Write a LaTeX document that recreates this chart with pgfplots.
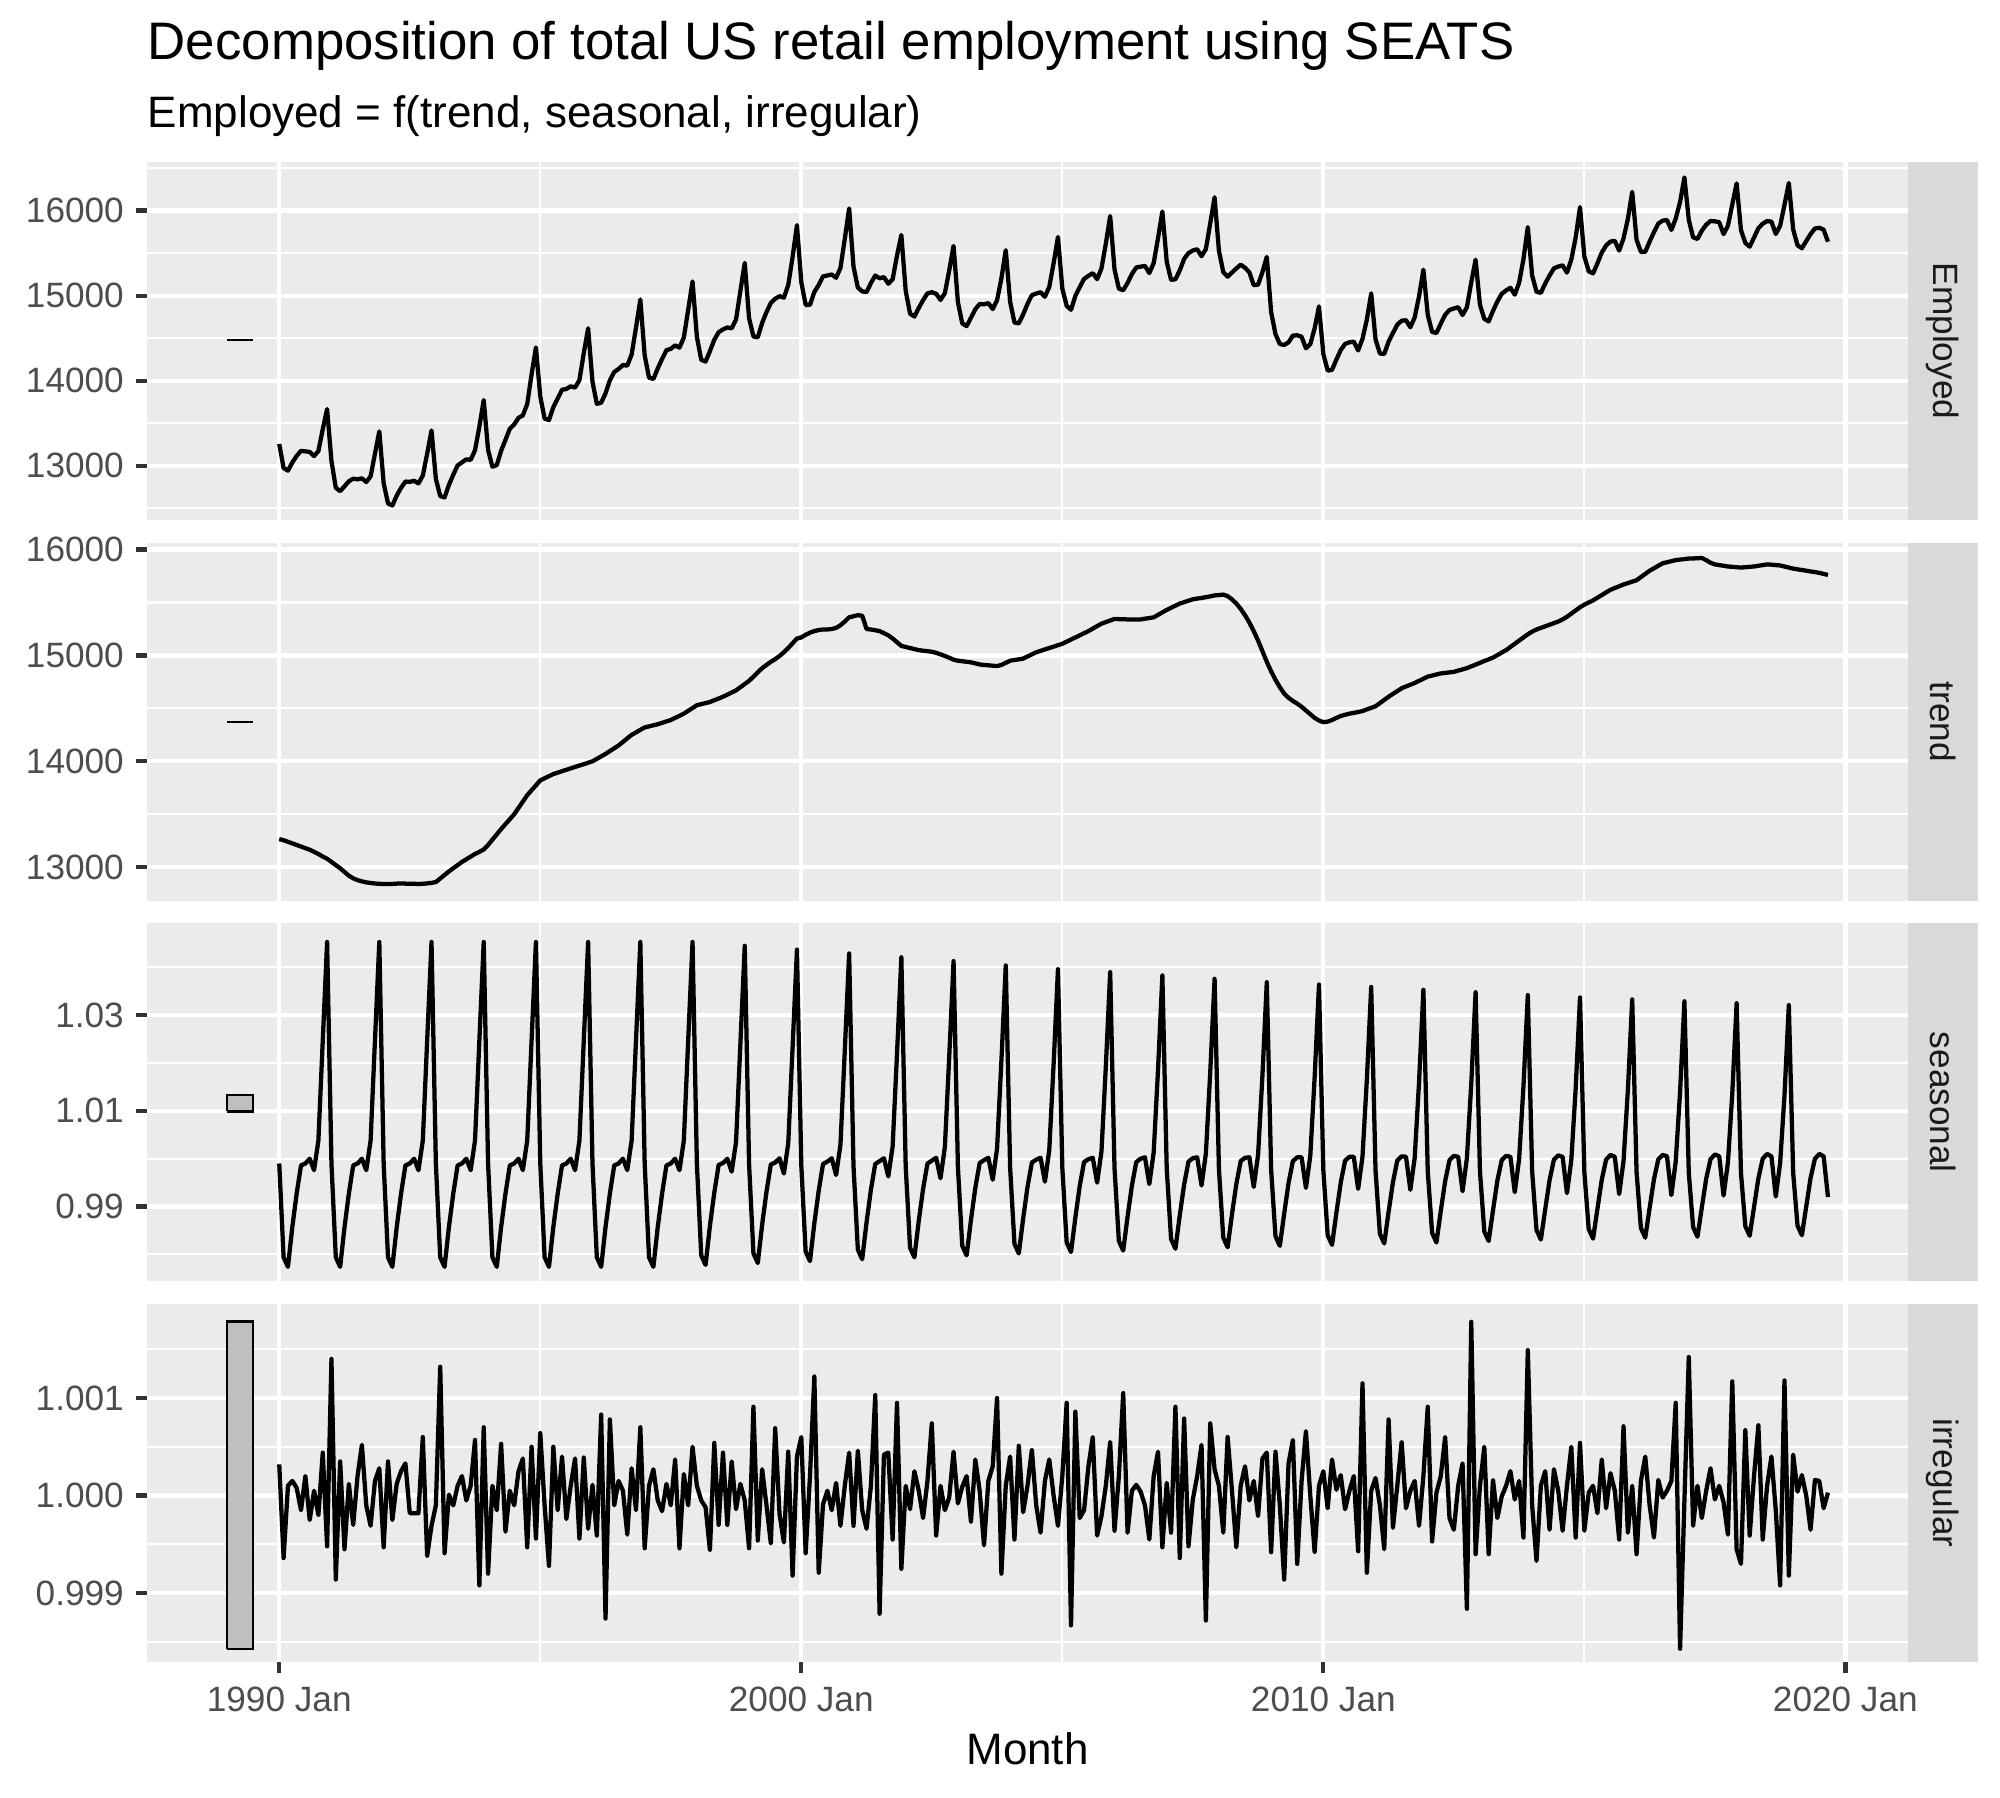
\documentclass[border=0pt]{standalone}
\usepackage{fontspec}
\setmainfont{Liberation Sans}
\usepackage{pgfplots}
\pgfplotsset{compat=1.18}
\usepackage{pgfplotstable}
\definecolor{panelbg}{HTML}{EBEBEB}
\definecolor{stripbg}{HTML}{D9D9D9}
\definecolor{gray10}{HTML}{1A1A1A}
\definecolor{gray20}{HTML}{333333}
\definecolor{gray30}{HTML}{4D4D4D}
\definecolor{barfill}{HTML}{BFBFBF}

\pgfplotstableread{
yr mo E T S I
1990 1 13256 13265 0.9990 1.00032
1990 2 12973 13255 0.9794 0.99936
1990 3 12942 13240 0.9774 1.00010
1990 4 13038 13225 0.9857 1.00015
1990 5 13115 13210 0.9927 1.00008
1990 6 13175 13195 0.9986 0.99985
1990 7 13169 13180 0.9990 1.00020
1990 8 13162 13165 1.0000 0.99975
1990 9 13114 13145 0.9976 1.00005
1990 10 13172 13125 1.0038 0.99980
1990 11 13429 13100 1.0247 1.00044
1990 12 13666 13080 1.0453 0.99948
1991 1 13055 13050 0.9990 1.00140
1991 2 12741 13020 0.9794 0.99914
1991 3 12701 12990 0.9774 1.00035
1991 4 12758 12955 0.9857 0.99945
1991 5 12817 12920 0.9927 1.00012
1991 6 12848 12895 0.9986 0.99970
1991 7 12840 12878 0.9990 1.00020
1991 8 12852 12866 1.0000 1.00052
1991 9 12808 12857 0.9976 0.99990
1991 10 12875 12851 1.0038 0.99969
1991 11 13141 12846 1.0247 1.00015
1991 12 13404 12843 1.0453 1.00028
1992 1 12795 12842 0.9990 0.99947
1992 2 12556 12841 0.9794 1.00035
1992 3 12532 12842 0.9774 0.99975
1992 4 12648 12845 0.9857 1.00012
1992 5 12740 12846 0.9927 1.00025
1992 6 12814 12845 0.9986 1.00033
1992 7 12810 12844 0.9990 0.99982
1992 8 12823 12843 1.0000 0.99982
1992 9 12792 12842 0.9976 0.99982
1992 10 12884 12843 1.0038 1.00060
1992 11 13141 12847 1.0247 0.99938
1992 12 13415 12852 1.0453 0.99969
1993 1 12846 12860 0.9990 0.99990
1993 2 12644 12893 0.9794 1.00132
1993 3 12627 12927 0.9774 0.99941
1993 4 12775 12960 0.9857 1.00001
1993 5 12894 12990 0.9927 0.99990
1993 6 13003 13020 0.9986 1.00010
1993 7 13040 13050 0.9990 1.00020
1993 8 13074 13075 1.0000 0.99995
1993 9 13070 13100 0.9976 1.00010
1993 10 13182 13125 1.0038 1.00057
1993 11 13458 13145 1.0247 0.99908
1993 12 13773 13167 1.0453 1.00070
1994 1 13186 13210 0.9990 0.99920
1994 2 12988 13260 0.9794 1.00010
1994 3 13007 13310 0.9774 0.99985
1994 4 13176 13360 0.9857 1.00053
1994 5 13304 13407 0.9927 0.99963
1994 6 13435 13453 0.9986 1.00005
1994 7 13485 13500 0.9990 0.99990
1994 8 13563 13560 1.0000 1.00025
1994 9 13592 13620 0.9976 1.00038
1994 10 13725 13680 1.0038 0.99947
1994 11 14073 13727 1.0247 1.00050
1994 12 14391 13773 1.0453 0.99956
1995 1 13815 13820 0.9990 1.00064
1995 2 13554 13840 0.9794 0.99990
1995 3 13537 13860 0.9774 0.99928
1995 4 13689 13880 0.9857 1.00050
1995 5 13790 13893 0.9927 0.99985
1995 6 13893 13907 0.9986 1.00040
1995 7 13903 13920 0.9990 0.99976
1995 8 13934 13933 1.0000 1.00010
1995 9 13919 13947 0.9976 1.00038
1995 10 14007 13960 1.0038 0.99956
1995 11 14324 13973 1.0247 1.00039
1995 12 14616 13987 1.0453 0.99966
1996 1 13988 14000 0.9990 1.00011
1996 2 13728 14023 0.9794 0.99959
1996 3 13741 14047 0.9774 1.00083
1996 4 13851 14070 0.9857 0.99874
1996 5 14005 14097 0.9927 1.00078
1996 6 14102 14123 0.9986 0.99990
1996 7 14138 14150 0.9990 1.00015
1996 8 14184 14183 1.0000 1.00005
1996 9 14177 14217 0.9976 0.99960
1996 10 14308 14250 1.0038 1.00028
1996 11 14623 14273 1.0247 0.99985
1996 12 14955 14297 1.0453 1.00070
1997 1 14298 14320 0.9990 0.99946
1997 2 14036 14330 0.9794 1.00010
1997 3 14020 14340 0.9774 1.00027
1997 4 14144 14350 0.9857 0.99995
1997 5 14256 14363 0.9927 0.99984
1997 6 14359 14377 0.9986 1.00012
1997 7 14374 14390 0.9990 0.99990
1997 8 14415 14410 1.0000 1.00037
1997 9 14388 14430 0.9976 0.99946
1997 10 14508 14450 1.0038 1.00022
1997 11 14833 14477 1.0247 0.99990
1997 12 15167 14503 1.0453 1.00050
1998 1 14516 14530 0.9989 1.00010
1998 2 14246 14540 0.9798 0.99995
1998 3 14225 14550 0.9778 0.99988
1998 4 14348 14560 0.9860 0.99944
1998 5 14481 14577 0.9929 1.00054
1998 6 14570 14593 0.9987 0.99970
1998 7 14603 14610 0.9991 1.00044
1998 8 14626 14630 1.0000 0.99970
1998 9 14616 14650 0.9973 1.00035
1998 10 14719 14670 1.0035 0.99986
1998 11 15055 14700 1.0240 1.00012
1998 12 15385 14730 1.0445 0.99995
1999 1 14734 14760 0.9988 0.99946
1999 2 14520 14800 0.9802 1.00091
1999 3 14510 14840 0.9782 0.99954
1999 4 14679 14880 0.9862 1.00027
1999 5 14806 14910 0.9931 0.99990
1999 6 14915 14940 0.9988 0.99951
1999 7 14963 14965 0.9992 1.00069
1999 8 14994 14995 1.0001 0.99981
1999 9 14976 15030 0.9969 0.99952
1999 10 15125 15070 1.0032 1.00045
1999 11 15455 15115 1.0233 0.99918
1999 12 15829 15160 1.0437 1.00040
2000 1 15158 15170 0.9986 1.00060
2000 2 14891 15195 0.9806 0.99941
2000 3 14892 15215 0.9786 1.00020
2000 4 15043 15230 0.9865 1.00122
2000 5 15126 15240 0.9933 0.99921
2000 6 15227 15245 0.9989 0.99991
2000 7 15237 15245 0.9994 1.00005
2000 8 15249 15250 1.0001 0.99985
2000 9 15210 15260 0.9966 1.00013
2000 10 15325 15285 1.0029 0.99969
2000 11 15668 15320 1.0226 1.00010
2000 12 16026 15360 1.0429 1.00044
2001 1 15342 15370 0.9985 0.99969
2001 2 15095 15380 0.9810 1.00046
2001 3 15050 15375 0.9790 0.99985
2001 4 15042 15250 0.9867 0.99966
2001 5 15147 15245 0.9935 1.00010
2001 6 15237 15238 0.9989 1.00103
2001 7 15204 15230 0.9995 0.99879
2001 8 15218 15210 1.0001 1.00042
2001 9 15140 15190 0.9963 1.00044
2001 10 15193 15160 1.0026 0.99955
2001 11 15471 15125 1.0219 1.00095
2001 12 15714 15090 1.0421 0.99925
2002 1 15057 15080 0.9984 1.00010
2002 2 14788 15070 0.9814 0.99986
2002 3 14754 15060 0.9794 1.00025
2002 4 14855 15050 0.9870 1.00005
2002 5 14947 15045 0.9937 0.99977
2002 6 15027 15040 0.9990 1.00015
2002 7 15040 15035 0.9996 1.00074
2002 8 15022 15025 1.0002 0.99959
2002 9 14950 15010 0.9959 1.00010
2002 10 15029 14995 1.0024 0.99985
2002 11 15295 14978 1.0212 0.99998
2002 12 15585 14960 1.0413 1.00045
2003 1 14923 14950 0.9983 0.99992
2003 2 14674 14945 0.9818 1.00009
2003 3 14641 14940 0.9798 1.00020
2003 4 14740 14935 0.9872 0.99973
2003 5 14840 14925 0.9939 1.00037
2003 6 14902 14915 0.9991 1.00005
2003 7 14898 14910 0.9997 0.99949
2003 8 14912 14907 1.0002 1.00015
2003 9 14842 14903 0.9956 1.00030
2003 10 14946 14900 1.0021 1.00100
2003 11 15204 14910 1.0205 0.99920
2003 12 15535 14930 1.0404 1.00010
2004 1 14929 14950 0.9982 1.00040
2004 2 14684 14957 0.9822 0.99955
2004 3 14674 14963 0.9802 1.00051
2004 4 14780 14970 0.9875 0.99983
2004 5 14903 14990 0.9941 1.00010
2004 6 15005 15010 0.9992 1.00047
2004 7 15025 15030 0.9998 0.99990
2004 8 15040 15043 1.0002 0.99962
2004 9 14987 15057 0.9952 1.00015
2004 10 15103 15070 1.0018 1.00037
2004 11 15382 15083 1.0198 1.00000
2004 12 15690 15097 1.0396 0.99969
2005 1 15084 15110 0.9981 1.00020
2005 2 14880 15130 0.9825 1.00095
2005 3 14834 15150 0.9805 0.99867
2005 4 14996 15170 0.9877 1.00086
2005 5 15100 15190 0.9943 0.99977
2005 6 15197 15210 0.9993 0.99985
2005 7 15233 15230 0.9999 1.00030
2005 8 15265 15253 1.0002 1.00060
2005 9 15194 15277 0.9950 0.99959
2005 10 15320 15300 1.0015 0.99979
2005 11 15611 15315 1.0192 1.00010
2005 12 15936 15330 1.0390 1.00055
2006 1 15309 15345 0.9980 0.99964
2006 2 15082 15343 0.9828 1.00020
2006 3 15064 15342 0.9808 1.00105
2006 4 15149 15340 0.9879 0.99962
2006 5 15255 15340 0.9944 1.00005
2006 6 15331 15340 0.9993 1.00011
2006 7 15341 15340 1.0000 1.00004
2006 8 15350 15347 1.0003 0.99990
2006 9 15265 15353 0.9947 0.99955
2006 10 15383 15360 1.0013 1.00020
2006 11 15676 15383 1.0186 1.00045
2006 12 15989 15407 1.0383 0.99947
2007 1 15400 15430 0.9979 1.00013
2007 2 15185 15450 0.9832 0.99962
2007 3 15193 15470 0.9812 1.00091
2007 4 15297 15490 0.9882 0.99936
2007 5 15432 15503 0.9946 1.00079
2007 6 15500 15517 0.9994 0.99948
2007 7 15531 15530 1.0001 0.99996
2007 8 15545 15537 1.0003 1.00020
2007 9 15464 15543 0.9944 1.00052
2007 10 15547 15550 1.0011 0.99872
2007 11 15850 15558 1.0180 1.00074
2007 12 16157 15567 1.0376 1.00027
2008 1 15527 15570 0.9978 1.00010
2008 2 15278 15575 0.9835 0.99962
2008 3 15223 15560 0.9815 1.00060
2008 4 15272 15530 0.9884 1.00005
2008 5 15320 15490 0.9947 0.99947
2008 6 15364 15440 0.9995 1.00010
2008 7 15328 15380 1.0002 1.00030
2008 8 15274 15310 1.0003 0.99995
2008 9 15123 15230 0.9941 1.00015
2008 10 15129 15140 1.0008 0.99979
2008 11 15277 15040 1.0174 1.00038
2008 12 15456 14940 1.0369 1.00044
2009 1 14807 14850 0.9977 0.99942
2009 2 14547 14770 0.9838 1.00045
2009 3 14431 14700 0.9818 0.99990
2009 4 14420 14640 0.9885 0.99914
2009 5 14451 14600 0.9949 1.00033
2009 6 14531 14570 0.9995 1.00057
2009 7 14534 14545 1.0003 0.99930
2009 8 14517 14515 1.0003 1.00015
2009 9 14381 14480 0.9939 1.00066
2009 10 14429 14445 1.0006 1.00000
2009 11 14616 14410 1.0170 0.99942
2009 12 14874 14385 1.0364 1.00010
2010 1 14314 14370 0.9976 1.00025
2010 2 14119 14375 0.9840 0.99987
2010 3 14127 14390 0.9820 1.00037
2010 4 14248 14410 0.9887 1.00006
2010 5 14361 14428 0.9950 1.00021
2010 6 14432 14440 0.9996 0.99986
2010 7 14452 14450 1.0004 1.00005
2010 8 14459 14458 1.0004 1.00020
2010 9 14356 14465 0.9937 0.99943
2010 10 14492 14475 1.0004 1.00115
2010 11 14718 14490 1.0165 0.99921
2010 12 15027 14505 1.0359 1.00005
2011 1 14486 14520 0.9975 1.00018
2011 2 14320 14550 0.9843 0.99990
2011 3 14314 14580 0.9823 0.99945
2011 4 14459 14610 0.9889 1.00078
2011 5 14560 14637 0.9951 0.99967
2011 6 14659 14663 0.9996 1.00010
2011 7 14705 14690 1.0005 1.00055
2011 8 14711 14707 1.0004 0.99987
2011 9 14628 14723 0.9935 1.00005
2011 10 14745 14740 1.0002 1.00015
2011 11 14992 14760 1.0160 0.99969
2011 12 15305 14780 1.0353 1.00020
2012 1 14775 14800 0.9974 1.00091
2012 2 14574 14810 0.9845 0.99953
2012 3 14561 14820 0.9825 1.00003
2012 4 14671 14830 0.9891 1.00020
2012 5 14774 14835 0.9953 1.00060
2012 6 14832 14840 0.9997 0.99977
2012 7 14849 14845 1.0006 0.99965
2012 8 14864 14857 1.0004 1.00010
2012 9 14772 14868 0.9932 1.00033
2012 10 14864 14880 1.0001 0.99884
2012 11 15156 14897 1.0156 1.00178
2012 12 15423 14913 1.0348 0.99940
2013 1 14893 14930 0.9974 1.00010
2013 2 14727 14947 0.9848 1.00050
2013 3 14697 14963 0.9828 0.99940
2013 4 14821 14980 0.9892 1.00016
2013 5 14931 15003 0.9954 0.99977
2013 6 15022 15027 0.9997 0.99999
2013 7 15061 15050 1.0006 1.00010
2013 8 15093 15080 1.0004 1.00025
2013 9 15011 15110 0.9930 0.99996
2013 10 15151 15140 0.9999 1.00015
2013 11 15428 15170 1.0151 0.99957
2013 12 15805 15200 1.0342 1.00149
2014 1 15237 15225 0.9973 0.99990
2014 2 15047 15245 0.9851 0.99933
2014 3 15033 15260 0.9831 1.00010
2014 4 15142 15275 0.9894 1.00025
2014 5 15236 15290 0.9955 0.99965
2014 6 15321 15305 0.9998 1.00027
2014 7 15342 15320 1.0007 1.00005
2014 8 15356 15340 1.0004 0.99964
2014 9 15271 15365 0.9928 1.00010
2014 10 15423 15395 0.9997 1.00050
2014 11 15684 15425 1.0146 0.99957
2014 12 16041 15455 1.0337 1.00054
2015 1 15461 15480 0.9972 0.99964
2015 2 15287 15500 0.9853 1.00003
2015 3 15262 15520 0.9833 1.00010
2015 4 15379 15545 0.9895 0.99982
2015 5 15507 15570 0.9956 1.00037
2015 6 15590 15595 0.9998 0.99987
2015 7 15636 15620 1.0008 1.00023
2015 8 15644 15637 1.0004 1.00005
2015 9 15530 15653 0.9926 0.99955
2015 10 15673 15670 0.9995 1.00071
2015 11 15901 15683 1.0143 0.99962
2015 12 16221 15697 1.0333 1.00010
2016 1 15657 15710 0.9972 0.99940
2016 2 15514 15740 0.9855 1.00015
2016 3 15516 15770 0.9835 1.00040
2016 4 15636 15800 0.9897 0.99990
2016 5 15748 15823 0.9957 0.99957
2016 6 15848 15847 0.9999 1.00016
2016 7 15882 15870 1.0008 0.99998
2016 8 15889 15880 1.0005 1.00005
2016 9 15772 15890 0.9924 1.00015
2016 10 15906 15900 0.9994 1.00095
2016 11 16101 15905 1.0139 0.99843
2016 12 16390 15910 1.0329 0.99995
2017 1 15891 15915 0.9971 1.00142
2017 2 15685 15916 0.9857 0.99969
2017 3 15667 15918 0.9837 1.00010
2017 4 15764 15920 0.9898 0.99977
2017 5 15834 15900 0.9958 1.00005
2017 6 15878 15875 0.9999 1.00028
2017 7 15874 15860 1.0009 0.99996
2017 8 15863 15853 1.0005 1.00010
2017 9 15724 15847 0.9923 0.99993
2017 10 15821 15840 0.9992 0.99960
2017 11 16071 15837 1.0136 1.00117
2017 12 16320 15833 1.0325 0.99945
2018 1 15771 15830 0.9970 0.99930
2018 2 15620 15833 0.9859 1.00067
2018 3 15576 15837 0.9839 0.99959
2018 4 15683 15840 0.9899 1.00020
2018 5 15793 15847 0.9959 1.00072
2018 6 15846 15853 1.0000 0.99955
2018 7 15877 15860 1.0010 1.00010
2018 8 15871 15857 1.0005 1.00040
2018 9 15725 15853 0.9921 0.99985
2018 10 15821 15850 0.9991 0.99908
2018 11 16068 15840 1.0132 1.00118
2018 12 16325 15830 1.0321 0.99918
2019 1 15779 15820 0.9970 1.00042
2019 2 15592 15813 0.9860 1.00004
2019 3 15557 15807 0.9840 1.00021
2019 4 15642 15800 0.9900 1.00000
2019 5 15724 15793 0.9960 0.99965
2019 6 15790 15787 1.0000 1.00016
2019 7 15798 15780 1.0010 1.00015
2019 8 15776 15770 1.0005 0.99987
2019 9 15634 15760 0.9920 1.00003
}\dcmp

\tikzset{
  ytl/.style={anchor=east, inner sep=0pt, text=gray30, font=\fontsize{8.83}{10}\selectfont},
  xtl/.style={anchor=base, inner sep=0pt, text=gray30, font=\fontsize{8.83}{10}\selectfont},
}
\newcommand{\ytk}[2]{%
  \draw[gray20, line width=1.067bp] (axis cs:-30.4,#1) -- ++(-2.75bp,0pt);
  \node[ytl] at ([xshift=-5.6bp]axis cs:-30.4,#1) {#2};}
\newcommand{\xtk}[2]{%
  \draw[gray20, line width=1.067bp] (axis cs:#1,-1.705) -- ++(0pt,-2.75bp);
  \node[xtl] at ([yshift=-12.3bp]axis cs:#1,-1.705) {#2};}

\pgfplotsset{
  panel/.style={
    scale only axis, width=440.25bp, height=89.5bp,
    anchor=south west,
    xmin=-30.4, xmax=374.4,
    axis background/.style={fill=panelbg},
    axis line style={draw=none},
    xtick={0,120,240,360}, minor xtick={60,180,300},
    grid=both,
    major grid style={white, line width=1.067bp},
    minor grid style={white, line width=0.533bp},
    major tick length=0pt, minor tick length=0pt,
    scaled ticks=false,
    xticklabels={}, yticklabels={},
    clip=false,
  },
  dline/.style={black, line width=1.067bp, line join=round, mark=none},
  barline/.style={black, line width=0.6bp, mark=none},
  sbar/.style={draw=black, fill=barfill, line width=0.6bp, mark=none},
}

\begin{document}
\begin{tikzpicture}
\useasboundingbox (0,0) rectangle (500bp,449.5bp);

% Employed
\begin{axis}[panel, at={(36.75bp,319.5bp)}, ymin=12362, ymax=16572,
  ytick={13000,14000,15000,16000}, minor ytick={12500,13500,14500,15500,16500}]
\addplot[dline] table[x expr={(\thisrow{yr}-1990)*12+\thisrow{mo}-1}, y=E]{\dcmp};
\addplot[barline] coordinates {(-12,14475) (-6,14475)};
\ytk{13000}{13000}\ytk{14000}{14000}\ytk{15000}{15000}\ytk{16000}{16000}
\end{axis}

% trend
\begin{axis}[panel, at={(36.75bp,224.33bp)}, ymin=12684, ymax=16065,
  ytick={13000,14000,15000,16000}, minor ytick={13500,14500,15500}]
\addplot[dline] table[x expr={(\thisrow{yr}-1990)*12+\thisrow{mo}-1}, y=T]{\dcmp};
\addplot[barline] coordinates {(-12,14372) (-6,14372)};
\ytk{13000}{13000}\ytk{14000}{14000}\ytk{15000}{15000}\ytk{16000}{16000}
\end{axis}

% seasonal
\begin{axis}[panel, at={(36.75bp,129.17bp)}, ymin=0.97438, ymax=1.0492,
  ytick={0.99,1.01,1.03}, minor ytick={0.98,1.00,1.02,1.04}]
\addplot[dline] table[x expr={(\thisrow{yr}-1990)*12+\thisrow{mo}-1}, y=S]{\dcmp};
\addplot[sbar] coordinates {(-12,1.0099) (-6,1.0099) (-6,1.0133) (-12,1.0133) (-12,1.0099)};
\ytk{0.99}{0.99}\ytk{1.01}{1.01}\ytk{1.03}{1.03}
\end{axis}

% irregular (plotted as (value-1)*1000)
\begin{axis}[panel, at={(36.75bp,34bp)}, ymin=-1.705, ymax=1.963,
  ytick={-1,0,1}, minor ytick={-1.5,-0.5,0.5,1.5}]
\addplot[dline] table[x expr={(\thisrow{yr}-1990)*12+\thisrow{mo}-1}, y expr={(\thisrow{I}-1)*1000}]{\dcmp};
\addplot[sbar] coordinates {(-12,-1.57) (-6,-1.57) (-6,1.785) (-12,1.785) (-12,-1.57)};
\ytk{-1}{0.999}\ytk{0}{1.000}\ytk{1}{1.001}
\xtk{0}{1990 Jan}\xtk{120}{2000 Jan}\xtk{240}{2010 Jan}\xtk{360}{2020 Jan}
\end{axis}

% strips
\fill[stripbg] (477bp,319.5bp) rectangle (494.5bp,409bp);
\fill[stripbg] (477bp,224.33bp) rectangle (494.5bp,313.83bp);
\fill[stripbg] (477bp,129.17bp) rectangle (494.5bp,218.67bp);
\fill[stripbg] (477bp,34bp) rectangle (494.5bp,123.5bp);
\begin{scope}[every node/.style={rotate=-90, inner sep=0pt, text=gray10, font=\fontsize{8.83}{10}\selectfont}]
\node at (485.75bp,364.25bp) {Employed};
\node at (485.75bp,269.08bp) {trend};
\node at (485.75bp,173.92bp) {seasonal};
\node at (485.75bp,78.75bp) {irregular};
\end{scope}

% titles
\node[anchor=base west, inner sep=0pt, font=\fontsize{13.25}{15}\selectfont] at (36.75bp,434.5bp) {Decomposition of total US retail employment using SEATS};
\node[anchor=base west, inner sep=0pt, font=\fontsize{11.04}{13}\selectfont] at (36.75bp,417.5bp) {Employed = f(trend, seasonal, irregular)};
\node[anchor=base, inner sep=0pt, font=\fontsize{11.04}{13}\selectfont] at (256.875bp,8.3bp) {Month};
\end{tikzpicture}
\end{document}
